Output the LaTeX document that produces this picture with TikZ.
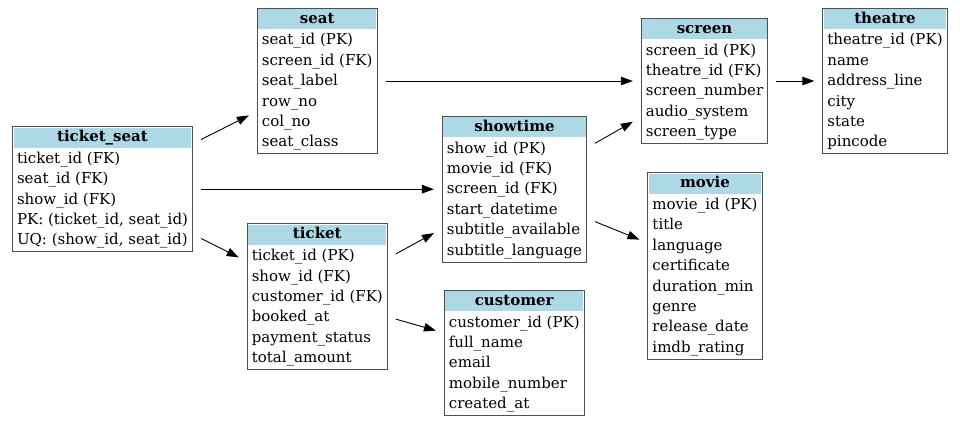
\documentclass[tikz,border=0pt]{standalone}
\usepackage{fontspec}
\setmainfont{DejaVu Serif}
\usetikzlibrary{arrows.meta}
\definecolor{headblue}{HTML}{ADD8E6}
\definecolor{boxline}{HTML}{505050}
\newcommand{\dbtable}[2]{%
  \begin{tabular}{@{}l@{}}
    \multicolumn{1}{@{}c@{}}{\textbf{#1}}\\[1.3pt]
    #2
  \end{tabular}}

\begin{document}
\begin{tikzpicture}[
    x=1pt,
    y=-1pt,
    ->,
    >={Triangle[length=12pt,width=8.5pt]},
    table node/.style={draw=boxline,line width=1pt,fill=white,
      inner xsep=4.5pt,inner ysep=0.8pt,outer sep=8.5pt,
      font=\fontsize{15}{20.4}\selectfont,
      path picture={\fill[headblue]
        ([shift={(1pt,-1pt)}]path picture bounding box.north west) rectangle
        ([shift={(-1pt,-21pt)}]path picture bounding box.north east);}}
    ]

    \useasboundingbox (0,0) rectangle (960,424);

    \node[table node] (ticketseat) at (102.5,189.2) {\dbtable{ticket\_seat}{
      ticket\_id (FK)\\ seat\_id (FK)\\ show\_id (FK)\\
      PK: (ticket\_id, seat\_id)\\ UQ: (show\_id, seat\_id)}};
    \node[table node] (seat) at (317.2,81) {\dbtable{seat}{
      seat\_id (PK)\\ screen\_id (FK)\\ seat\_label\\ row\_no\\ col\_no\\ seat\_class}};
    \node[table node] (ticket) at (317.3,296.7) {\dbtable{ticket}{
      ticket\_id (PK)\\ show\_id (FK)\\ customer\_id (FK)\\ booked\_at\\
      payment\_status\\ total\_amount}};
    \node[table node] (showtime) at (514.5,189.2) {\dbtable{showtime}{
      show\_id (PK)\\ movie\_id (FK)\\ screen\_id (FK)\\ start\_datetime\\
      subtitle\_available\\ subtitle\_language}};
    \node[table node] (customer) at (514.3,352.9) {\dbtable{customer}{
      customer\_id (PK)\\ full\_name\\ email\\ mobile\_number\\ created\_at}};
    \node[table node] (screen) at (704.5,81) {\dbtable{screen}{
      screen\_id (PK)\\ theatre\_id (FK)\\ screen\_number\\ audio\_system\\ screen\_type}};
    \node[table node] (movie) at (705,266) {\dbtable{movie}{
      movie\_id (PK)\\ title\\ language\\ certificate\\ duration\_min\\
      genre\\ release\_date\\ imdb\_rating}};
    \node[table node] (theatre) at (885,81) {\dbtable{theatre}{
      theatre\_id (PK)\\ name\\ address\_line\\ city\\ state\\ pincode}};

    \path[line width=0.9pt]
      (ticketseat) edge (seat)
      (ticketseat) edge (showtime)
      (ticketseat) edge (ticket)
      (seat) edge (screen)
      (showtime) edge (screen)
      (showtime) edge (movie)
      (ticket) edge (showtime)
      (ticket) edge (customer)
      (screen) edge (theatre);
  \end{tikzpicture}
\end{document}
